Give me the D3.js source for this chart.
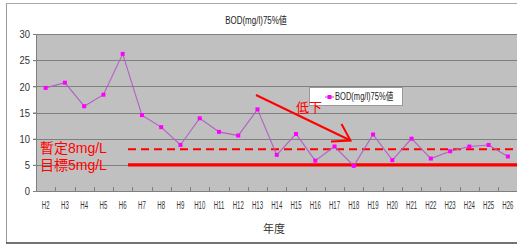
<!DOCTYPE html>
<html><head><meta charset="utf-8">
<script src="https://cdn.jsdelivr.net/npm/d3@7"></script>
<style>
html,body{margin:0;padding:0;background:#fff;overflow:hidden}
svg{display:block}
</style></head>
<body><svg id="c" width="517" height="246"></svg>
<script>
const categories = ["H2","H3","H4","H5","H6","H7","H8","H9","H10","H11","H12","H13","H14","H15","H16","H17","H18","H19","H20","H21","H22","H23","H24","H25","H26"];
const bodValues = [19.7,20.7,16.2,18.4,26.2,14.5,12.2,8.8,13.9,11.3,10.6,15.6,6.9,10.9,5.8,8.5,4.8,10.8,5.9,10.0,6.2,7.6,8.5,8.8,6.6];
const yTicks = [0,5,10,15,20,25,30];
const seriesName = "BOD(mg/l)75%値";
const provisionalTarget = 8;
const finalTarget = 5;
const provisionalLabel = "暫定8mg/L";
const targetLabel = "目標5mg/L";
const trendLabel = "低下";
const xTitle = "年度";

const sans = "Liberation Sans, Arial, Noto Sans CJK JP, sans-serif";
const jp = "Liberation Sans, Noto Sans CJK JP, sans-serif";
const svg = d3.select("#c");
const L = 36, R = 517.5, T = 34, B = 191;
const x = d3.scaleBand().domain(categories).range([L, R]).padding(0);
const y = d3.scaleLinear().domain([0, 30]).range([B, T]);

function ntext(g, tx, ty, s, str, size, anchor, fill, fam) {
  return g.append("text").attr("transform", `translate(${tx},${ty}) scale(${s},1)`)
    .attr("text-anchor", anchor).attr("dominant-baseline", "middle")
    .attr("font-family", fam || sans).attr("font-size", size).attr("fill", fill).text(str);
}

// outer frame
svg.append("line").attr("x1",6.5).attr("x2",6.5).attr("y1",3).attr("y2",243).attr("stroke","#999").attr("stroke-width",1);
svg.append("line").attr("x1",6.5).attr("x2",517).attr("y1",3.5).attr("y2",3.5).attr("stroke","#aaa").attr("stroke-width",1);
svg.append("line").attr("x1",6).attr("x2",517).attr("y1",243).attr("y2",243).attr("stroke","#444").attr("stroke-width",1.5);

// title
ntext(svg, 256, 21, 0.8, seriesName, 10, "middle", "#222");

// plot background
svg.append("rect").attr("x",L).attr("y",T).attr("width",R-L).attr("height",B-T).attr("fill","#c0c0c0");

// grid lines
svg.append("g").selectAll("line").data(yTicks.filter(d=>d>0)).join("line")
  .attr("x1",L-3).attr("x2",R).attr("y1",d=>Math.round(y(d))+0.5).attr("y2",d=>Math.round(y(d))+0.5)
  .attr("stroke","#7f7f7f").attr("stroke-width",1);

// y axis
const ya = svg.append("g").attr("transform",`translate(${L},0)`)
  .call(d3.axisLeft(y).tickValues(yTicks).tickSize(3).tickPadding(3));
ya.select(".domain").attr("stroke","#7f7f7f");
ya.selectAll(".tick line").attr("stroke","#7f7f7f");
ya.selectAll("text").attr("font-family",sans).attr("font-size",11.5).attr("fill","#333")
  .attr("x",-6/0.82).attr("transform","scale(0.82,1)");

// x axis
const xa = svg.append("g").attr("transform",`translate(0,${B})`)
  .call(d3.axisBottom(x).tickSize(0).tickPadding(10));
xa.select(".domain").attr("stroke","#7f7f7f");
xa.selectAll("text").attr("font-family",sans).attr("font-size",11).attr("fill","#333")
  .attr("transform","scale(0.55,1)");
// inner tick marks at band boundaries
svg.append("g").selectAll("line").data(categories).join("line")
  .attr("x1",d=>Math.round(x(d))+0.5).attr("x2",d=>Math.round(x(d))+0.5)
  .attr("y1",B).attr("y2",B-4).attr("stroke","#7f7f7f");

// x title
svg.append("text").attr("x",274).attr("y",230).attr("text-anchor","middle").attr("dominant-baseline","middle")
  .attr("font-family","Noto Sans CJK JP, sans-serif").attr("font-size",11).attr("fill","#333").text(xTitle);

// target lines
svg.append("line").attr("x1",128).attr("x2",R).attr("y1",y(provisionalTarget)).attr("y2",y(provisionalTarget))
  .attr("stroke","#ff0000").attr("stroke-width",2).attr("stroke-dasharray","8,5");
svg.append("line").attr("x1",128).attr("x2",R).attr("y1",y(finalTarget)).attr("y2",y(finalTarget))
  .attr("stroke","#ff0000").attr("stroke-width",3.2);

// series line
const cx = d => x(d) + x.bandwidth()/2;
const line = d3.line().x((d,i)=>cx(categories[i])).y(d=>y(d));
svg.append("path").datum(bodValues).attr("d",line).attr("fill","none").attr("stroke","#b35fc4").attr("stroke-width",1.1);
svg.append("g").selectAll("rect").data(bodValues).join("rect")
  .attr("x",(d,i)=>cx(categories[i])-2).attr("y",d=>y(d)-2).attr("width",4).attr("height",4).attr("fill","#ff00ff");

// target labels
svg.append("text").attr("x",40).attr("y",153).attr("font-family",jp).attr("font-size",14).attr("fill","#ff0000").text(provisionalLabel);
svg.append("text").attr("x",40).attr("y",170).attr("font-family",jp).attr("font-size",14).attr("fill","#ff0000").text(targetLabel);

// legend
const lg = svg.append("g");
lg.append("rect").attr("x",309.5).attr("y",87.5).attr("width",93).attr("height",18).attr("fill","#fff").attr("stroke","#999");
lg.append("line").attr("x1",325).attr("x2",334).attr("y1",97).attr("y2",97).attr("stroke","#b35fc4").attr("stroke-width",1.1);
lg.append("rect").attr("x",327.5).attr("y",95).attr("width",4).attr("height",4).attr("fill","#ff00ff");
ntext(lg, 335, 97, 0.72, seriesName, 10.5, "start", "#222");

// trend arrow
const ax1=256, ay1=95, ax2=350.5, ay2=140.5;
svg.append("line").attr("x1",ax1).attr("y1",ay1).attr("x2",ax2).attr("y2",ay2).attr("stroke","#ff0000").attr("stroke-width",2);
svg.append("path").attr("d",`M341.5,124 L${ax2},${ay2} L331,141.5`).attr("fill","none").attr("stroke","#ff0000").attr("stroke-width",2);
svg.append("text").attr("x",296).attr("y",112).attr("font-family","Noto Sans CJK JP, sans-serif").attr("font-size",13).attr("fill","#ff0000").text(trendLabel);
</script></body></html>
